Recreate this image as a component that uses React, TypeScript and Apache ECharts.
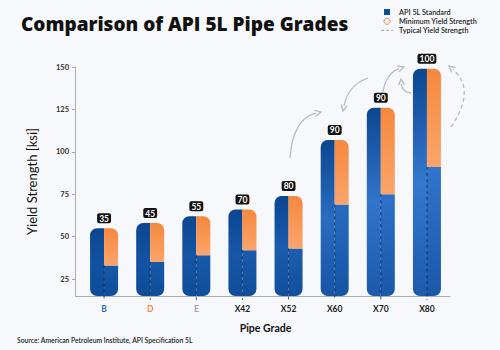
import React, { useEffect, useRef } from "react";
import * as echarts from "echarts";

const grades = ["B", "D", "E", "X42", "X52", "X60", "X70", "X80"];
const labelValues = [35, 45, 55, 70, 80, 90, 90, 100];
const typicalTops = [55, 58, 62, 66, 74, 107, 126, 149];
const minimumSplits = [33, 35, 39, 42, 43, 69, 75, 91];
const yTicks = [25, 50, 75, 100, 125, 150];
const gradeColors: Record<string, string> = { B: "#2d6dbf", D: "#f0894a", E: "#9aa3b5" };

const Y_MIN = 15;
const Y_MAX = 150;
const FONT = "Lato, 'Open Sans', sans-serif";

function mix(a: number[], b: number[], t: number) {
  const c = a.map((v, i) => Math.round(v + (b[i] - v) * t));
  return `rgb(${c[0]},${c[1]},${c[2]})`;
}

function arrow(x1: number, y1: number, cx: number, cy: number, x2: number, y2: number, dashed: boolean) {
  const color = "#b7bbc4";
  const dx = x2 - cx, dy = y2 - cy;
  const len = Math.sqrt(dx * dx + dy * dy) || 1;
  const ux = dx / len, uy = dy / len;
  const px = -uy, py = ux;
  const L = 6, W = 3;
  const bx = x2 - ux * L, by = y2 - uy * L;
  return [
    {
      type: "bezierCurve",
      shape: { x1, y1, x2: bx + ux * 1, y2: by + uy * 1, cpx1: cx, cpy1: cy },
      style: { stroke: color, lineWidth: 1.3, fill: "none", lineDash: dashed ? [4, 3] : undefined },
      silent: true,
    },
    {
      type: "polyline",
      shape: { points: [[bx + px * W, by + py * W], [x2, y2], [bx - px * W, by - py * W]] },
      style: { stroke: color, lineWidth: 1.3, fill: "none" },
      silent: true,
    },
  ];
}

export default function App() {
  const ref = useRef<HTMLDivElement>(null);
  useEffect(() => {
    if (!ref.current) return;
    const chart = echarts.init(ref.current, undefined, { renderer: "svg" });

    const blueGrad = (t: number) =>
      new echarts.graphic.LinearGradient(0, 0, 0, 1, [
        { offset: 0, color: "#0b4690" },
        { offset: 0.5, color: mix([18, 82, 160], [52, 121, 208], t) },
        { offset: 1, color: mix([14, 76, 152], [28, 90, 172], t) },
      ]);
    const blueLowGrad = (t: number) =>
      new echarts.graphic.LinearGradient(0, 0, 0, 1, [
        { offset: 0, color: mix([22, 88, 168], [48, 116, 204], t) },
        { offset: 1, color: mix([14, 76, 152], [26, 88, 170], t) },
      ]);
    const orangeGrad = () =>
      new echarts.graphic.LinearGradient(0, 0, 0, 1, [
        { offset: 0, color: "#f6883d" },
        { offset: 1, color: "#fba56c" },
      ]);

    const data = grades.map((g, i) => [i, typicalTops[i], minimumSplits[i], labelValues[i]]);

    const rich: Record<string, any> = {};
    grades.forEach((g, i) => {
      rich["g" + i] = {
        color: gradeColors[g] || "#1a1a1a",
        fontWeight: "bold",
        fontSize: 8.5,
        fontFamily: FONT,
      };
    });

    const option: any = {
      animation: false,
      backgroundColor: "#f7f8fb",
      title: {
        text: "Comparison of API 5L Pipe Grades",
        left: 16,
        top: 9,
        textStyle: { fontFamily: "'Open Sans', Lato, sans-serif", fontWeight: 800, fontSize: 19, color: "#111" },
      },
      grid: { left: 81, right: 50, top: 67, bottom: 54 },
      xAxis: {
        type: "category",
        data: grades,
        name: "Pipe Grade",
        nameLocation: "middle",
        nameGap: 26,
        nameTextStyle: { fontFamily: FONT, fontWeight: "bold", fontSize: 10.5, color: "#111" },
        axisLine: { lineStyle: { color: "#a9adb6" } },
        axisTick: { show: false },
        axisLabel: {
          interval: 0,
          margin: 8,
          formatter: (v: string) => `{g${grades.indexOf(v)}|${v}}`,
          rich,
        },
      },
      yAxis: {
        type: "value",
        min: Y_MIN,
        max: Y_MAX,
        offset: 6,
        name: "Yield Strength [ksi]",
        nameLocation: "middle",
        nameGap: 37,
        nameTextStyle: { fontFamily: FONT, fontSize: 13, color: "#111" },
        splitLine: { show: false },
        axisLine: { show: true, lineStyle: { color: "#a9adb6" } },
        axisTick: { show: true, length: 3, customValues: yTicks, lineStyle: { color: "#a9adb6" } },
        axisLabel: {
          customValues: yTicks,
          fontFamily: FONT,
          fontSize: 7.5,
          fontWeight: "bold",
          color: "#333",
          margin: 6,
        },
      },
      series: [
        {
          type: "custom",
          name: "API 5L Standard",
          data,
          encode: { x: 0, y: 1 },
          renderItem: (params: any, api: any) => {
            const idx = api.value(0);
            const top = api.value(1);
            const split = api.value(2);
            const label = api.value(3);
            const [cx, yTop] = api.coord([idx, top]);
            const ySplit = api.coord([idx, split])[1];
            const yBase = api.coord([idx, Y_MIN])[1];
            const t = Math.max(0, Math.min(1, (yBase - yTop - 70) / 130));
            const w = 28;
            const half = w / 2;
            const r = 7;
            return {
              type: "group",
              children: [
                {
                  type: "rect",
                  shape: { x: cx - half, y: yTop, width: half, height: yBase - yTop, r: [r, 0, 0, r] },
                  style: { fill: blueGrad(t) },
                },
                {
                  type: "rect",
                  shape: { x: cx, y: ySplit, width: half, height: yBase - ySplit, r: [0, 0, r, 0] },
                  style: { fill: blueLowGrad(t) },
                },
                {
                  type: "rect",
                  shape: { x: cx, y: yTop, width: half, height: ySplit - yTop, r: [0, r, 0, 0] },
                  style: { fill: orangeGrad() },
                },
                {
                  type: "line",
                  shape: { x1: cx, y1: ySplit, x2: cx, y2: yBase + 4 },
                  style: { stroke: "rgba(8,30,70,0.75)", lineWidth: 1, lineDash: [3, 3] },
                },
                {
                  type: "text",
                  x: cx,
                  y: yTop - 5,
                  style: {
                    text: String(label),
                    fill: "#ffffff",
                    font: `bold 8.5px ${FONT}`,
                    align: "center",
                    verticalAlign: "bottom",
                    backgroundColor: "#111111",
                    padding: [1, 2, 0, 2],
                    borderRadius: 2,
                  },
                },
              ],
            };
          },
        },
      ],
      graphic: [
        { type: "line", shape: { x1: 75, y1: 296.5, x2: 82, y2: 296.5 }, style: { stroke: "#a9adb6", lineWidth: 1 }, silent: true },
        { type: "rect", shape: { x: 384, y: 9, width: 6, height: 6 }, style: { fill: "#0b4f9c" } },
        { type: "circle", shape: { cx: 387, cy: 21.3, r: 3 }, style: { fill: "none", stroke: "#f0894a", lineWidth: 1 } },
        { type: "line", shape: { x1: 381, y1: 30.3, x2: 393, y2: 30.3 }, style: { stroke: "#b0b4bc", lineWidth: 1.2, lineDash: [3, 2] } },
        { type: "text", x: 399, y: 12.3, style: { text: "API 5L Standard", font: `600 7.3px ${FONT}`, fill: "#222", verticalAlign: "middle" } },
        { type: "text", x: 399, y: 21.3, style: { text: "Minimum Yield Strength", font: `600 7.3px ${FONT}`, fill: "#222", verticalAlign: "middle" } },
        { type: "text", x: 399, y: 30.3, style: { text: "Typical Yield Strength", font: `600 7.3px ${FONT}`, fill: "#222", verticalAlign: "middle" } },
        {
          type: "text",
          x: 17,
          y: 340,
          style: {
            text: "Source: American Petroleum Institute, API Specification 5L",
            font: `600 6.8px ${FONT}`,
            fill: "#222",
            verticalAlign: "middle",
          },
        },
        ...arrow(290, 158, 293, 118, 321, 112, false),
        ...arrow(368, 78, 348, 85, 343, 111, false),
        ...arrow(383, 92, 386, 73, 404, 67, false),
        ...arrow(411, 93, 402, 92, 401, 79, false),
        ...arrow(451, 127, 476.5, 89.5, 449, 66, true),
      ],
    };
    chart.setOption(option);
    return () => chart.dispose();
  }, []);
  return (
    <div style={{ position: "absolute", left: 0, top: 0 }}>
      <div ref={ref} style={{ width: 500, height: 350 }} />
    </div>
  );
}
